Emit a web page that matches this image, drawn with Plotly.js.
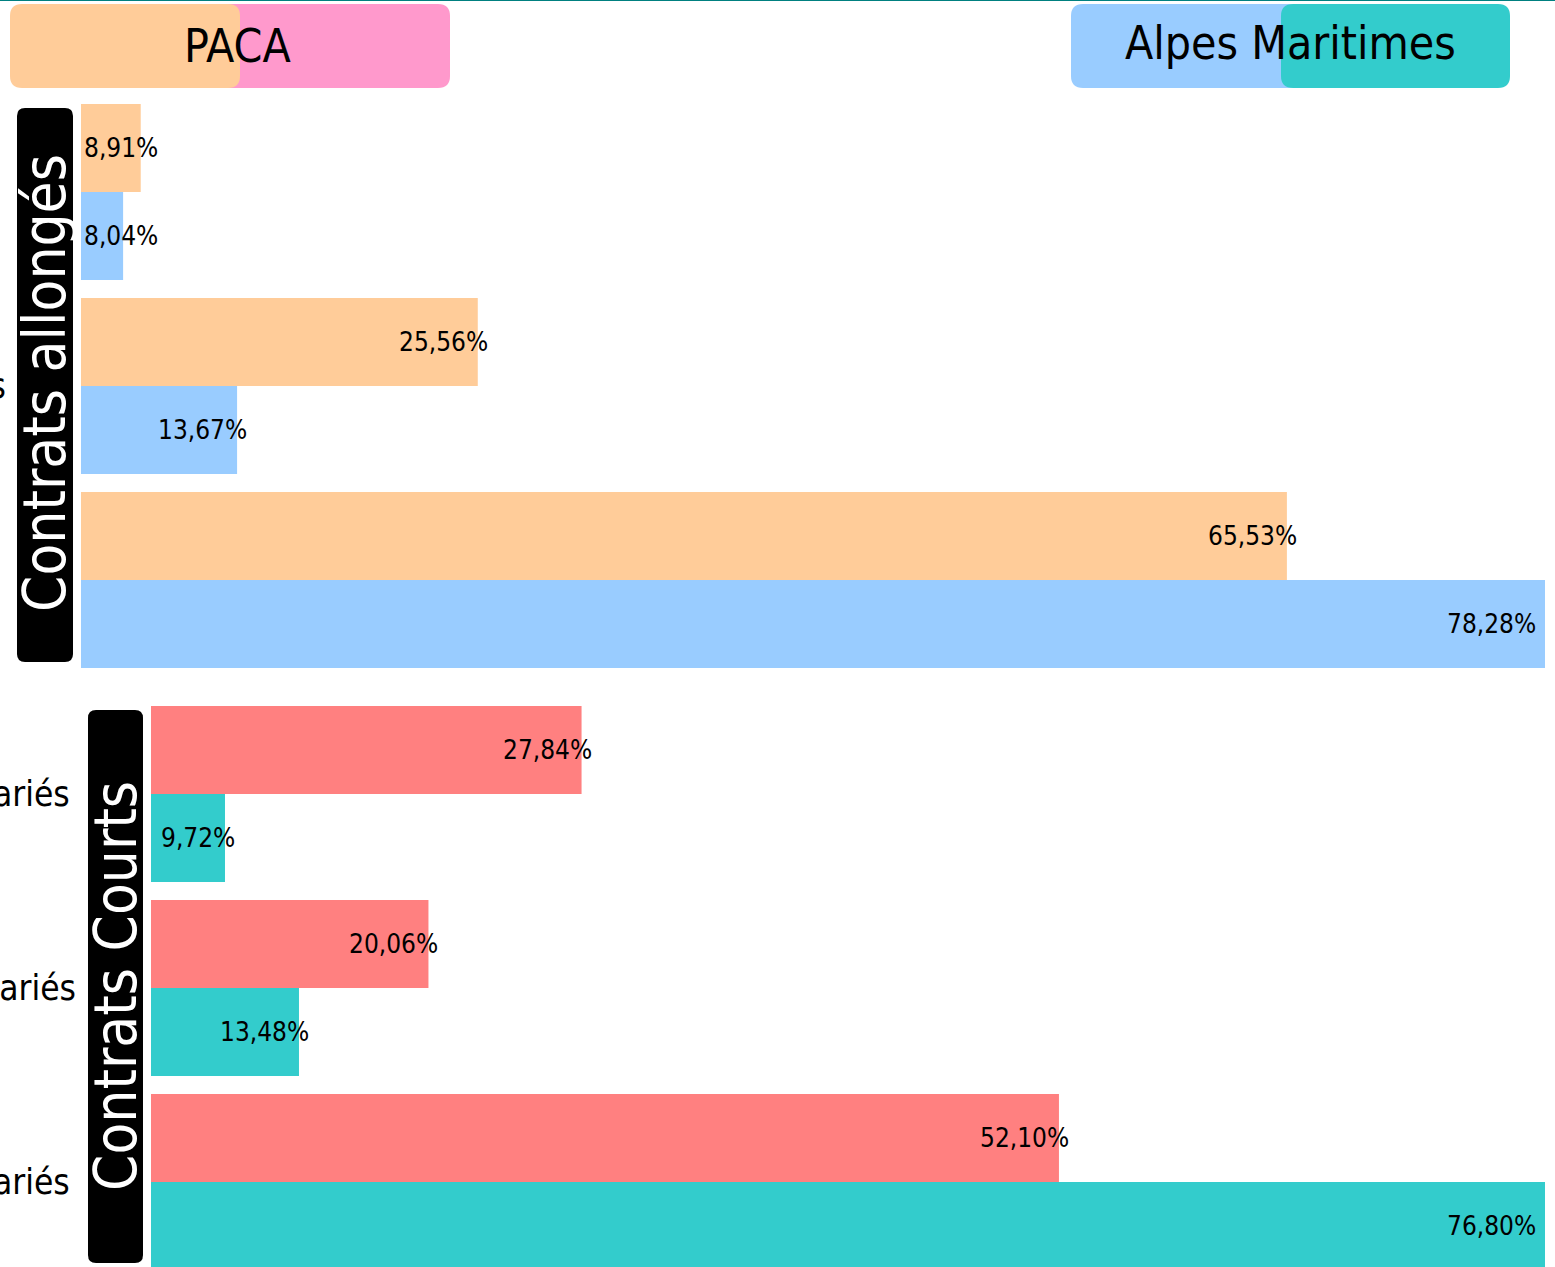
<!DOCTYPE html>
<html>
<head>
<meta charset="utf-8">
<script src="https://cdn.plot.ly/plotly-3.0.1.min.js"></script>
<style>
  html, body { margin: 0; padding: 0; overflow: hidden; background: #fff; }
  #chart { width: 1555px; height: 1300px; }
</style>
</head>
<body>
<div id="chart"></div>
<script>
// ---- data ----
const categories = ["Moins de 10 salari\u00e9s\u2009", "De 10 \u00e0 49 salari\u00e9s", "Plus de 50 salari\u00e9s\u2009"];
const allongesPACA = [8.91, 25.56, 65.53];
const allongesAM   = [8.04, 13.67, 78.28];
const courtsPACA   = [27.84, 20.06, 52.10];
const courtsAM     = [9.72, 13.48, 76.80];
const seriesNames  = ["PACA", "Alpes Maritimes"];
const panelTitles  = ["Contrats allong\u00e9s", "Contrats Courts"];

// ---- styles ----
const FONT = '"DejaVu Sans Condensed", "DejaVu Sans", sans-serif';
const W = 1555, H = 1300;
const C_ORANGE = '#FFCC99', C_PINK = '#FF99CC', C_BLUE = '#99CCFF', C_TEAL = '#33CCCC', C_RED = '#FF8080';
const xMin = 5.96;
const plotRightPx = 1545, topLeftPx = 81, botLeftPx = 151;
const topDom = [1 - 677 / H, 1 - 95 / H];
const botDom = [1 - 1279 / H, 1 - 697 / H];
const topMax = Math.max(...allongesPACA, ...allongesAM);
const botMax = Math.max(...courtsPACA, ...courtsAM);

function fmt(v) { return v.toFixed(2).replace('.', ',') + '%'; }

const canvas = document.createElement('canvas');
const ctx = canvas.getContext('2d');
ctx.font = '26px ' + FONT;

function labelAnns(vals, xref, yref, yshift, leftPx, xMax) {
  return vals.map((v, i) => {
    const w = ctx.measureText(fmt(v)).width;
    const endPx = leftPx + (v - xMin) / (xMax - xMin) * (plotRightPx - leftPx);
    let a = { x: v, xanchor: 'right', xshift: 11 };
    if (endPx + 11 - w < leftPx + 2) a = { x: xMin, xanchor: 'left', xshift: 2 };
    else if (endPx + 11 > plotRightPx - 8) a = { x: v, xanchor: 'right', xshift: -8 };
    return Object.assign(a, {
      xref: xref, yref: yref, y: categories[i], yshift: yshift, yanchor: 'middle',
      text: fmt(v), showarrow: false, borderpad: 0,
      font: { family: FONT, size: 26, color: '#000' }
    });
  });
}

function rr(x0, y0, x1, y1, r) {
  const X = p => (p / W).toFixed(5), Y = p => (1 - p / H).toFixed(5);
  return 'M' + X(x0 + r) + ',' + Y(y0) +
    ' L' + X(x1 - r) + ',' + Y(y0) + ' Q' + X(x1) + ',' + Y(y0) + ' ' + X(x1) + ',' + Y(y0 + r) +
    ' L' + X(x1) + ',' + Y(y1 - r) + ' Q' + X(x1) + ',' + Y(y1) + ' ' + X(x1 - r) + ',' + Y(y1) +
    ' L' + X(x0 + r) + ',' + Y(y1) + ' Q' + X(x0) + ',' + Y(y1) + ' ' + X(x0) + ',' + Y(y1 - r) +
    ' L' + X(x0) + ',' + Y(y0 + r) + ' Q' + X(x0) + ',' + Y(y0) + ' ' + X(x0 + r) + ',' + Y(y0) + ' Z';
}
function boxShape(path, color) {
  return { type: 'path', xref: 'paper', yref: 'paper', path: path, fillcolor: color, line: { width: 0 }, layer: 'above' };
}

const traces = [
  { type: 'bar', orientation: 'h', name: seriesNames[0], y: categories, x: allongesPACA, xaxis: 'x', yaxis: 'y',
    marker: { color: C_ORANGE }, hoverinfo: 'x' },
  { type: 'bar', orientation: 'h', name: seriesNames[1], y: categories, x: allongesAM, xaxis: 'x', yaxis: 'y',
    marker: { color: C_BLUE }, hoverinfo: 'x' },
  { type: 'bar', orientation: 'h', name: seriesNames[0], y: categories, x: courtsPACA, xaxis: 'x2', yaxis: 'y2',
    marker: { color: C_RED }, hoverinfo: 'x' },
  { type: 'bar', orientation: 'h', name: seriesNames[1], y: categories, x: courtsAM, xaxis: 'x2', yaxis: 'y2',
    marker: { color: C_TEAL }, hoverinfo: 'x' }
];

const yCommon = {
  type: 'category', autorange: 'reversed', showgrid: false, zeroline: false, showline: false,
  ticks: '', ticklabelstandoff: 74, automargin: false,
  tickfont: { family: FONT, size: 35, color: '#000' }
};
const xCommon = { showgrid: false, zeroline: false, showline: false, showticklabels: false, ticks: '', fixedrange: true };

const annotations = [].concat(
  labelAnns(allongesPACA, 'x', 'y', 44, topLeftPx, topMax),
  labelAnns(allongesAM, 'x', 'y', -44, topLeftPx, topMax),
  labelAnns(courtsPACA, 'x2', 'y2', 44, botLeftPx, botMax),
  labelAnns(courtsAM, 'x2', 'y2', -44, botLeftPx, botMax),
  [
    { xref: 'paper', yref: 'paper', x: 237 / W, y: 1 - 46 / H, text: seriesNames[0], showarrow: false,
      xanchor: 'center', yanchor: 'middle', font: { family: FONT, size: 46, color: '#000' } },
    { xref: 'paper', yref: 'paper', x: 1290 / W, y: 1 - 43 / H, text: seriesNames[1], showarrow: false,
      xanchor: 'center', yanchor: 'middle', font: { family: FONT, size: 46, color: '#000' } },
    { xref: 'paper', yref: 'paper', x: 45 / W, y: 1 - 383 / H, text: panelTitles[0], showarrow: false, textangle: -90,
      xanchor: 'center', yanchor: 'middle', font: { family: FONT, size: 58, color: '#fff' } },
    { xref: 'paper', yref: 'paper', x: 116 / W, y: 1 - 986 / H, text: panelTitles[1], showarrow: false, textangle: -90,
      xanchor: 'center', yanchor: 'middle', font: { family: FONT, size: 58, color: '#fff' } }
  ]
);

const shapes = [
  { type: 'line', xref: 'paper', yref: 'paper', x0: 0, x1: 1, y0: 1, y1: 1, line: { color: '#008080', width: 2 } },
  boxShape(rr(210, 4, 450, 88, 12), C_PINK),
  boxShape(rr(10, 4, 240, 88, 12), C_ORANGE),
  boxShape(rr(1071, 4, 1300, 88, 12), C_BLUE),
  boxShape(rr(1281, 4, 1510, 88, 12), C_TEAL),
  boxShape(rr(17, 108, 73, 662, 8), '#000'),
  boxShape(rr(88, 710, 143, 1263, 8), '#000')
];

const layout = {
  width: W, height: H,
  margin: { l: 0, r: 0, t: 0, b: 0, pad: 0 },
  paper_bgcolor: '#fff', plot_bgcolor: '#fff',
  showlegend: false,
  barmode: 'group', bargap: 0.0928, bargroupgap: 0,
  font: { family: FONT },
  xaxis: Object.assign({}, xCommon, { domain: [topLeftPx / W, plotRightPx / W], range: [xMin, topMax], anchor: 'y' }),
  yaxis: Object.assign({}, yCommon, { domain: topDom, anchor: 'x' }),
  xaxis2: Object.assign({}, xCommon, { domain: [botLeftPx / W, plotRightPx / W], range: [xMin, botMax], anchor: 'y2' }),
  yaxis2: Object.assign({}, yCommon, { domain: botDom, anchor: 'x2' }),
  annotations: annotations,
  shapes: shapes
};

Plotly.newPlot('chart', traces, layout, { displayModeBar: false, staticPlot: true });
</script>
</body>
</html>
